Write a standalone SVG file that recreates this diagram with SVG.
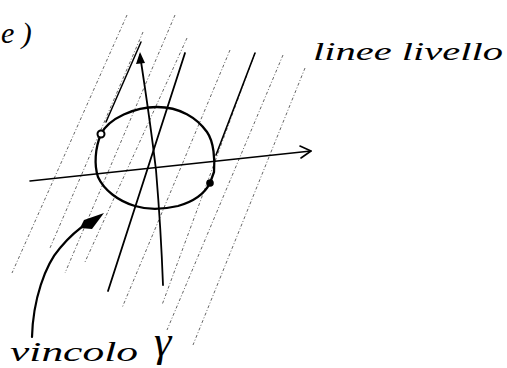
<svg xmlns="http://www.w3.org/2000/svg" width="507" height="368" viewBox="0 0 507 368">
<style>
.hatch{stroke:#333;stroke-width:1;stroke-dasharray:3 2 1 2;fill:none;opacity:0.75}
.ink{stroke:#000;stroke-width:2;fill:none;stroke-linecap:round;stroke-linejoin:round}
.txt{font-family:"Liberation Serif",serif;font-style:italic;fill:#000}
</style>
<rect width="507" height="368" fill="#fff"/>
<g id="level-lines">
<line class="hatch" x1="127" y1="15" x2="12" y2="273"/>
<line class="hatch" x1="143" y1="32" x2="50" y2="248"/>
<line class="ink" x1="141" y1="42" x2="106" y2="122" style="stroke-width:1.5"/>
<line class="hatch" x1="175" y1="15" x2="65" y2="273"/>
<line class="hatch" x1="187" y1="38" x2="85" y2="262"/>
<line class="hatch" x1="230" y1="50" x2="122" y2="308"/>
<line class="hatch" x1="255" y1="53" x2="162" y2="305"/>
<line class="ink" x1="255" y1="53" x2="216" y2="155" style="stroke-width:1.6"/>
<line class="hatch" x1="283" y1="55" x2="167" y2="330"/>
<line class="hatch" x1="305" y1="68" x2="193" y2="345"/>
<line class="ink" x1="185" y1="53" x2="108" y2="291" style="stroke-width:1.8"/>
</g>
<g id="axes">
<path class="ink" d="M30,181 L311,151" style="stroke-width:1.6"/>
<path class="ink" d="M300,146 L311,151 L301,158" style="stroke-width:1.6"/>
<path class="ink" d="M140,55 Q150,120 156,170 Q161,230 163,285" style="stroke-width:1.8"/>
<path d="M136,64 L140,52 L145,63 Z" fill="#000"/>
</g>
<g id="constraint">
<path class="ink" d="M157,107 C180,107 197,118 207,132 C214,142 215,160 214,172 L210,183 C204,195 192,202 178,206 C165,209 148,210 135,206 C118,201 104,190 98,177 C94,165 95,148 101,134 C109,118 135,107 157,107 Z" style="stroke-width:2.3"/>
<circle cx="101" cy="134" r="3.5" fill="#fff" stroke="#000" stroke-width="2"/>
<circle cx="210" cy="183" r="3.8" fill="#000"/>
</g>
<g id="pointer">
<path class="ink" d="M32,337 C33,300 45,265 60,248 C70,236 78,229 88,223" style="stroke-width:2.2"/>
<path d="M80,228 L84,220 L104,213 L92,229 Z" fill="#000"/>
</g>
<g id="labels">
<text class="txt" x="1" y="43" font-size="30">e )</text>
<text class="txt" x="313" y="60" font-size="26" textLength="190" lengthAdjust="spacingAndGlyphs">linee livello</text>
<text class="txt" x="10" y="361" font-size="28" textLength="128" lengthAdjust="spacingAndGlyphs">vincolo</text>
<text class="txt" x="154" y="356" font-size="44">γ</text>
</g>
</svg>
